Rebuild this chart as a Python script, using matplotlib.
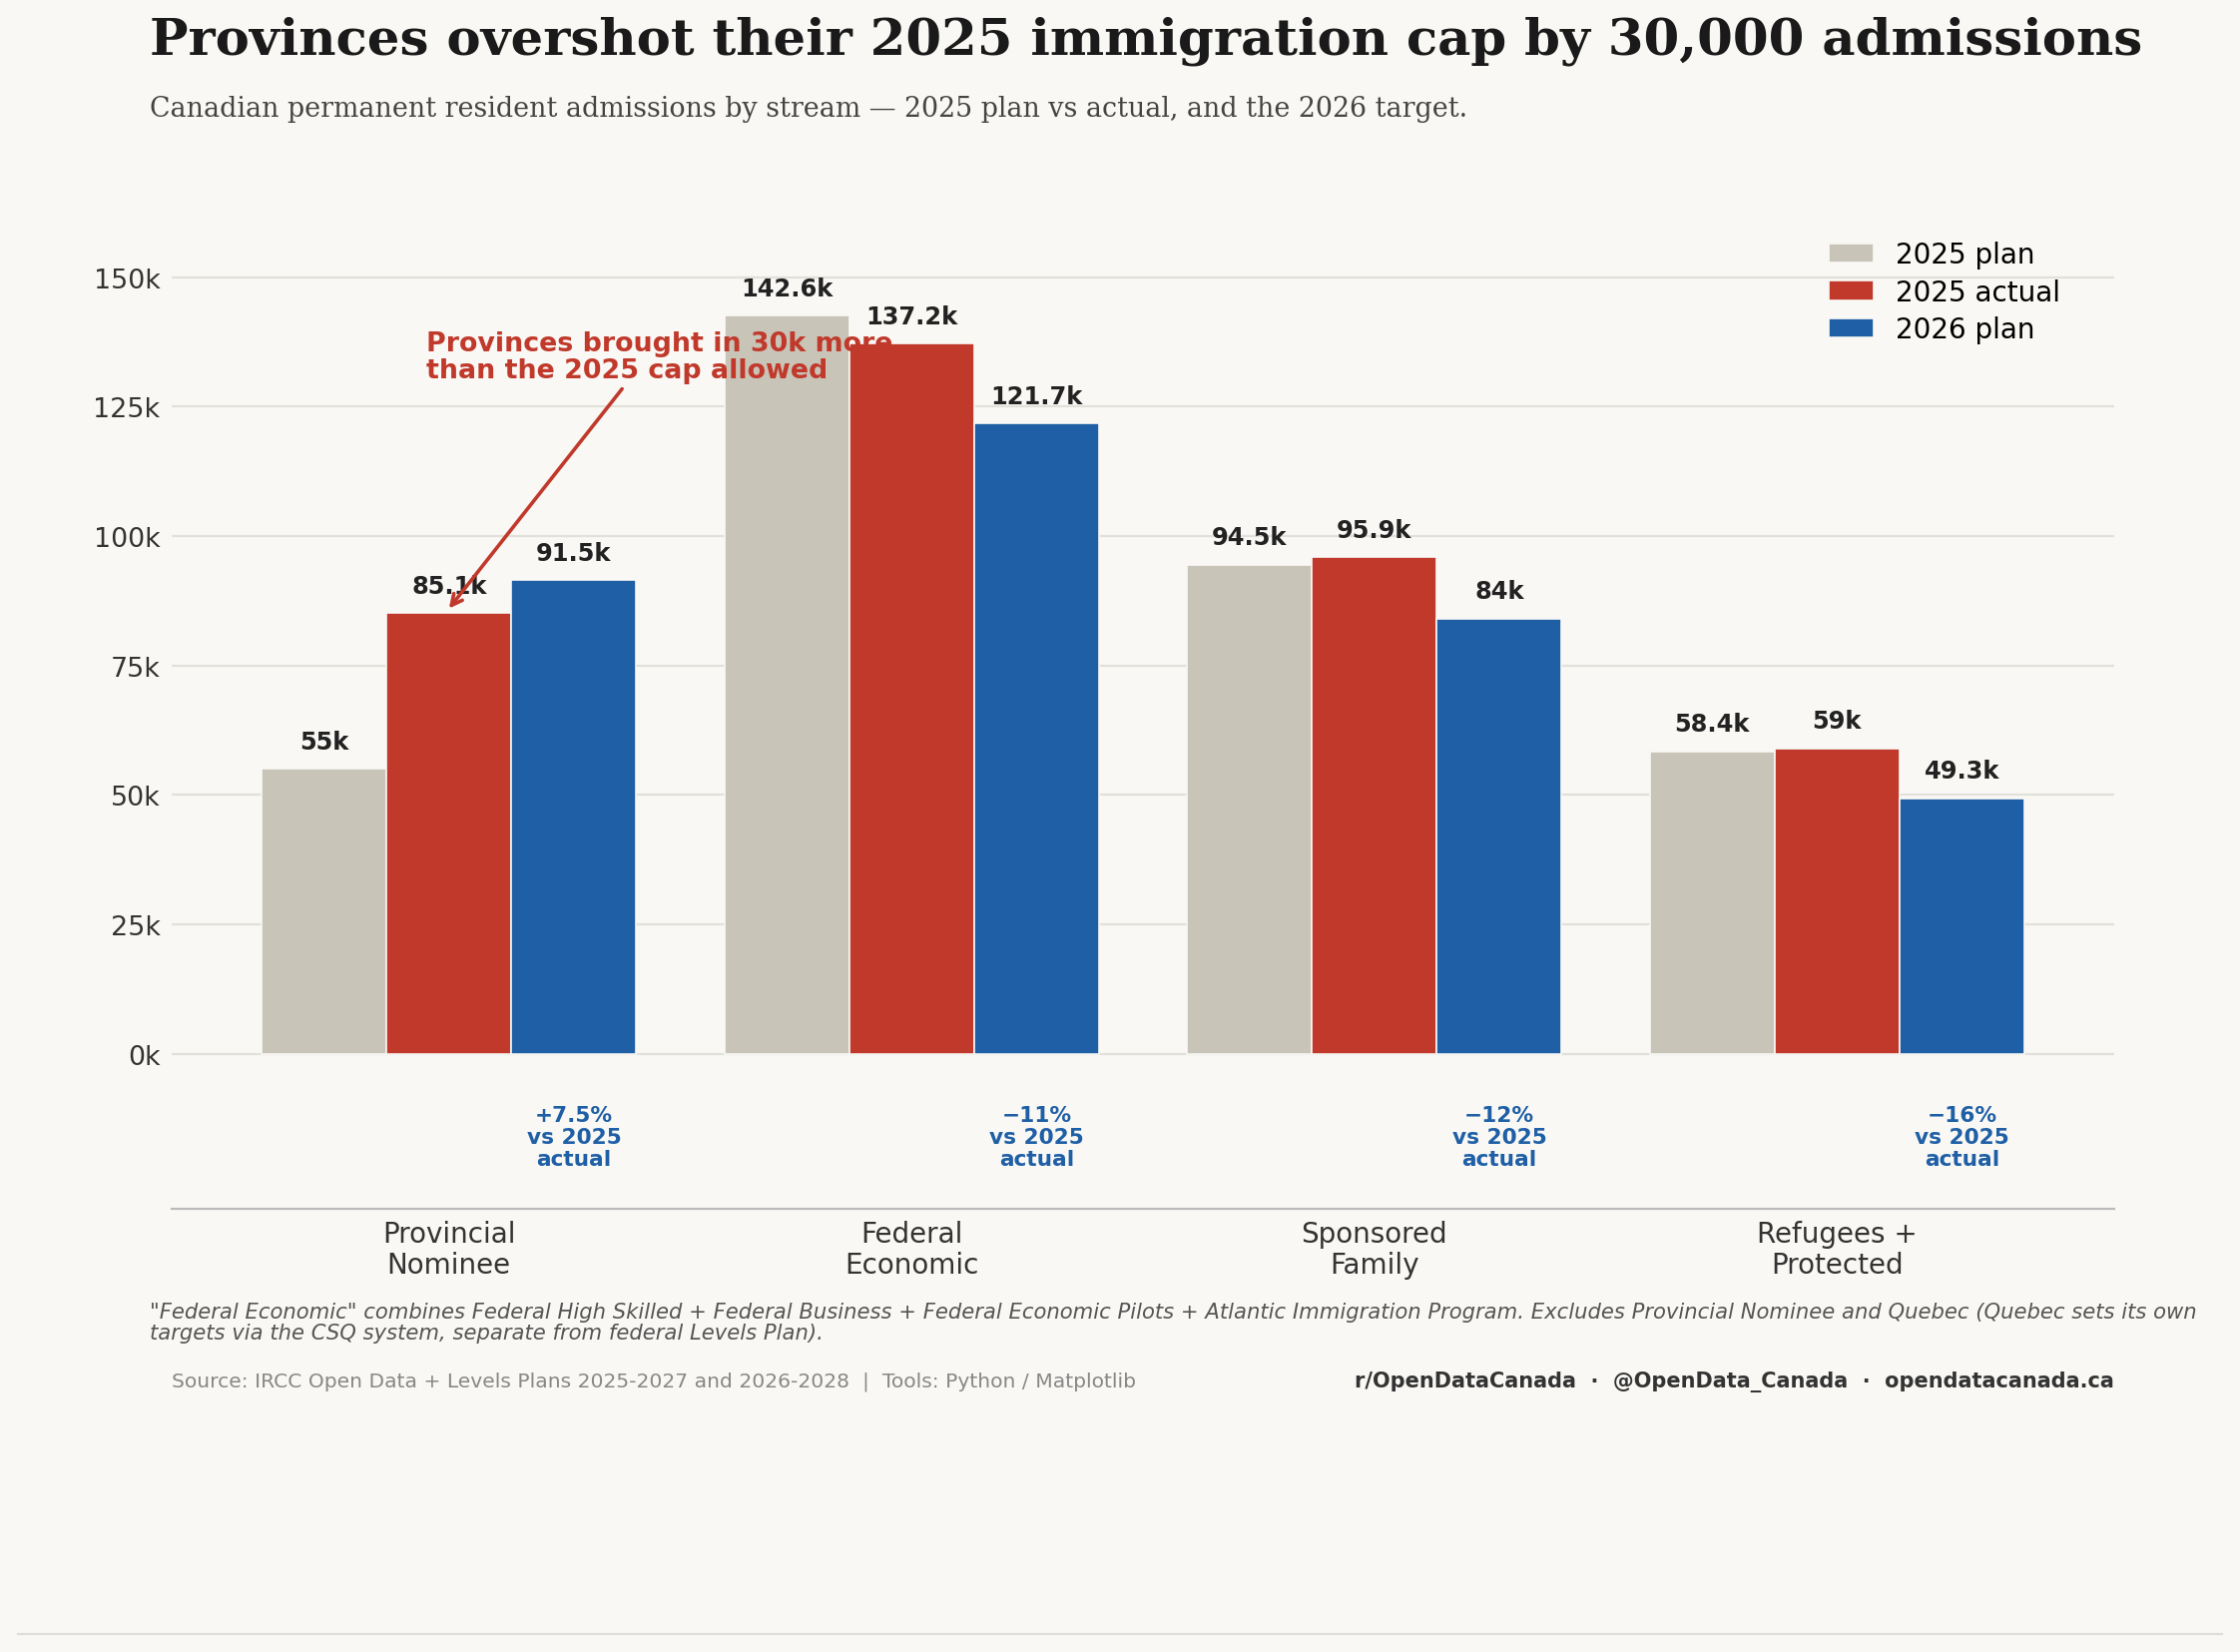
import numpy as np
import matplotlib.pyplot as plt

categories = ["Provincial\nNominee", "Federal\nEconomic", "Sponsored\nFamily", "Refugees +\nProtected"]
plan_2025 = [55.0, 142.6, 94.5, 58.4]
actual_2025 = [85.1, 137.2, 95.9, 59.0]
plan_2026 = [91.5, 121.7, 84.0, 49.3]
change_labels = ["+7.5%", "\u221211%", "\u221212%", "\u221216%"]

bg = "#f9f8f4"
c_plan, c_act, c_26 = "#c9c4b8", "#c0392b", "#1f5fa6"

fig = plt.figure(figsize=(11.22, 8.28), dpi=200, facecolor=bg)
ax = fig.add_axes([0.0765, 0.268, 0.8675, 0.595], facecolor=bg)

x = np.arange(len(categories))
w = 0.27

def fmt(v):
    s = f"{v:.1f}".rstrip("0").rstrip(".")
    return s + "k"

for off, vals, col, lab in [(-w, plan_2025, c_plan, "2025 plan"),
                            (0, actual_2025, c_act, "2025 actual"),
                            (w, plan_2026, c_26, "2026 plan")]:
    ax.bar(x + off, vals, w, color=col, edgecolor=bg, linewidth=0.6, label=lab, zorder=3)
    for xi, v in zip(x + off, vals):
        ax.text(xi, v + 3, fmt(v), ha="center", va="bottom", fontsize=8.7,
                fontweight="bold", color="#222222", zorder=4)

for xi, lab in zip(x + w, change_labels):
    ax.text(xi, -10, f"{lab}\nvs 2025\nactual", ha="center", va="top", fontsize=7.8,
            fontweight="bold", color=c_26, linespacing=1.1)

ax.annotate("Provinces brought in 30k more\nthan the 2025 cap allowed", xy=(0, 86), xytext=(-0.05, 129.5),
            fontsize=9.7, fontweight="bold", color=c_act, ha="left", va="bottom", linespacing=1.05,
            arrowprops=dict(arrowstyle="->", color=c_act, lw=1.3,
                            shrinkA=0, shrinkB=0, relpos=(0.43, 0)), zorder=5)

ax.set_ylim(-30, 160)
ax.set_xlim(-0.6, 3.6)
ax.set_yticks(np.arange(0, 151, 25))
ax.set_yticklabels([f"{t}k" for t in range(0, 151, 25)], fontsize=9.7, color="#333333")
ax.set_xticks(x)
ax.set_xticklabels(categories, fontsize=10, color="#333333", linespacing=1.1)
ax.tick_params(length=0, pad=4)
ax.grid(axis="y", color="#e2e0da", lw=0.8, zorder=0)
for s in ["top", "right", "left"]:
    ax.spines[s].set_visible(False)
ax.spines["bottom"].set_color("#bbbbbb")
ax.legend(loc="upper right", frameon=False, fontsize=10, handlelength=1.6,
          bbox_to_anchor=(0.985, 1.01), labelspacing=0.35)

fig.text(0.067, 0.975, "Provinces overshot their 2025 immigration cap by 30,000 admissions",
         fontsize=18.5, fontweight="bold", family="DejaVu Serif", color="#1a1a1a", va="center")
fig.text(0.067, 0.934, "Canadian permanent resident admissions by stream \u2014 2025 plan vs actual, and the 2026 target.",
         fontsize=9.7, family="DejaVu Serif", color="#444444", va="center")
fig.text(0.067, 0.212, "\"Federal Economic\" combines Federal High Skilled + Federal Business + Federal Economic Pilots + Atlantic Immigration Program. Excludes Provincial Nominee and Quebec (Quebec sets its own\ntargets via the CSQ system, separate from federal Levels Plan).",
         fontsize=7.6, style="italic", color="#555555", va="top", linespacing=1.05)
fig.text(0.0765, 0.164, "Source: IRCC Open Data + Levels Plans 2025-2027 and 2026-2028  |  Tools: Python / Matplotlib",
         fontsize=7.3, color="#888888", va="center")
fig.text(0.944, 0.164, "r/OpenDataCanada  \u00b7  @OpenData_Canada  \u00b7  opendatacanada.ca",
         fontsize=7.5, fontweight="bold", color="#333333", va="center", ha="right")
fig.add_artist(plt.Line2D([0.008, 0.992], [0.011, 0.011], color="#dddddd", lw=0.8))

fig.savefig("out.png", dpi=200, facecolor=bg)
